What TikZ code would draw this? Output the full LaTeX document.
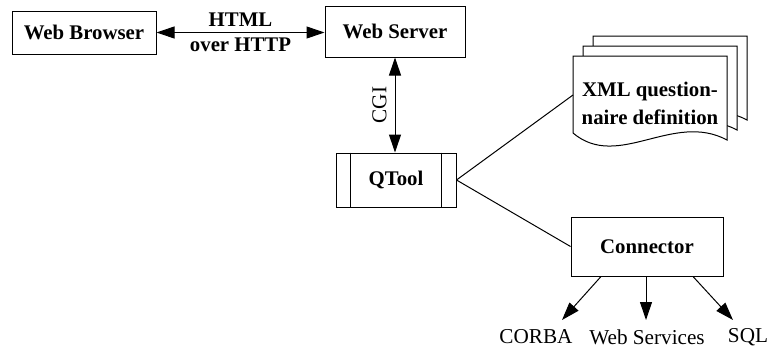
\documentclass[tikz,border=0pt]{standalone}
\usepackage{fontspec}
\setmainfont{Liberation Serif}
\usetikzlibrary{calc, arrows.meta, positioning}

% one sheet of the stacked document, top left corner given
\newcommand{\xmlsheet}[2]{%
  \begin{scope}[shift={(#1,#2)}]
    \draw[fill=white] (0,0) -- (154,0) -- (154,84)
      .. controls (100,55) and (45,115) .. (0,77) -- cycle;
  \end{scope}}

\begin{document}
\begin{tikzpicture}[x=0.5pt, y=-0.5pt, line width=0.5pt,
    font=\fontsize{10.6}{12.7}\selectfont,
    boldtext/.style={font=\fontsize{10.4}{12.4}\selectfont\bfseries},
    block/.style={draw, boldtext, inner sep=0pt},
    arr/.style={-{Triangle[length=9pt, width=6pt]}},
    twoarr/.style={{Triangle[length=9pt, width=6pt]}-{Triangle[length=9pt, width=6pt]}}]
  \useasboundingbox (0,0) rectangle (767,349);

  % web side
  \node[block, minimum width=72pt, minimum height=21.5pt] (browser) at (84,32.5) {Web Browser};
  \node[block, minimum width=70pt, minimum height=25.5pt] (server) at (395,31.5) {Web Server};
  \draw[twoarr] (browser.east) -- (browser.east -| server.west)
    node[midway, boldtext, align=center] (html) {HTML\\over HTTP};

  % QTool with its side bars
  \node[block, minimum width=60pt, minimum height=27pt] (qtool) at (396,180) {QTool};
  \draw ($(qtool.north west)+(15,0)$) -- ($(qtool.south west)+(15,0)$);
  \draw ($(qtool.north east)+(-15,0)$) -- ($(qtool.south east)+(-15,0)$);
  \draw[twoarr] (server.south) -- (server.south |- qtool.north)
    node[midway, rotate=90, anchor=south, inner sep=4pt] (cgi) {CGI};

  % questionnaire definition, three sheets
  \xmlsheet{593}{36}
  \xmlsheet{583}{46}
  \xmlsheet{573}{56}
  \node[boldtext, align=center] (xml) at (650,103) {XML question-\\[1.5pt]naire definition};
  \coordinate (xmlin) at (573,95);

  % connector and back ends
  \node[block, minimum width=76pt, minimum height=29.5pt] (conn) at (647,246.5) {Connector};
  \draw (qtool.east) -- (xmlin);
  \draw (qtool.east) -- (conn.west);

  \node (corba) at (536,337) {CORBA};
  \node (websvc) at (647,337) {Web Services};
  \node (sql) at (748,337) {SQL};
  \coordinate (corbatip) at (562,320);
  \coordinate (websvctip) at (646,320);
  \coordinate (sqltip) at (733,320);
  \draw[arr] ([xshift=-23pt]conn.south) -- (corbatip);
  \draw[arr] ([xshift=-0.5pt]conn.south) -- (websvctip);
  \draw[arr] ([xshift=23pt]conn.south) -- (sqltip);
\end{tikzpicture}
\end{document}
